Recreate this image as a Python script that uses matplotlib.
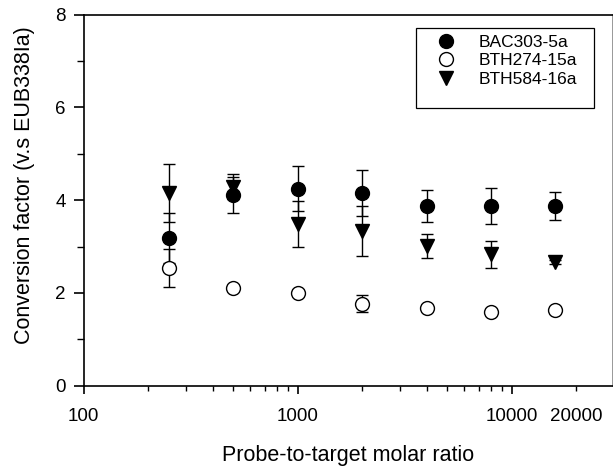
import matplotlib
matplotlib.use("Agg")
import matplotlib.pyplot as plt
from matplotlib.patches import Rectangle
from matplotlib.ticker import FixedLocator, FuncFormatter

plt.rcParams['font.family'] = ['Liberation Sans', 'DejaVu Sans']

# probe-to-target molar ratio
ratio = [250, 500, 1000, 2000, 4000, 8000, 16000]

# conversion factors and errors
bac303 = [3.19, 4.11, 4.25, 4.15, 3.88, 3.87, 3.87]
bac303_err = [0.54, 0.38, 0.49, 0.50, 0.34, 0.39, 0.30]

bth274 = [2.54, 2.11, 2.00, 1.77, 1.68, 1.60, 1.63]
bth274_err = [0.41, 0.05, 0.04, 0.18, 0.05, 0.04, 0.04]

bth584 = [4.15, 4.29, 3.48, 3.33, 3.01, 2.83, 2.67]
bth584_err = [0.63, 0.27, 0.50, 0.54, 0.26, 0.30, 0.05]

x_major = [100, 1000, 10000]
x_extra = 20000  # labelled minor tick
y_ticks = [0, 2, 4, 6, 8]

fig = plt.figure(figsize=(6.13, 4.69), dpi=100)
ax = fig.add_axes([0.1366, 0.1776, 0.863, 0.7911])

eb = dict(ecolor='black', elinewidth=1.0, capsize=4.5, capthick=1.0, linestyle='none')
tri = ax.errorbar(ratio, bth584, yerr=bth584_err, marker='v', markersize=10,
                  mfc='black', mec='black', zorder=3, **eb)
dot = ax.errorbar(ratio, bac303, yerr=bac303_err, marker='o', markersize=10,
                  mfc='black', mec='black', zorder=4, **eb)
ring = ax.errorbar(ratio, bth274, yerr=bth274_err, marker='o', markersize=10,
                   mfc='white', mec='black', mew=1.0, zorder=5, **eb)

ax.set_xscale('log')
ax.set_xlim(100, 29650)
ax.set_ylim(0, 8)

minor = [m * d for d in (100, 1000) for m in range(2, 10)] + [x_extra]
ax.xaxis.set_major_locator(FixedLocator(x_major))
ax.xaxis.set_major_formatter(FuncFormatter(lambda v, p: f"{v:.0f}"))
ax.xaxis.set_minor_locator(FixedLocator(minor))
ax.xaxis.set_minor_formatter(FuncFormatter(lambda v, p: f"{v:.0f}" if abs(v - x_extra) < 1 else ""))
ax.set_yticks(y_ticks)
ax.yaxis.set_minor_locator(FixedLocator([1, 3, 5, 7]))

ax.tick_params(axis='x', which='major', direction='out', length=6, width=1.2, labelsize=13.5, pad=10)
ax.tick_params(axis='x', which='minor', direction='out', length=3.6, width=1.0, labelsize=13.5, pad=12.4)
ax.tick_params(axis='y', which='major', direction='out', length=7, width=1.2, labelsize=13.5, pad=6)
ax.tick_params(axis='y', which='minor', direction='out', length=5, width=1.0)
for s in ax.spines.values():
    s.set_linewidth(1.2)
ax.spines['right'].set_color('#888888')

ax.set_xlabel("Probe-to-target molar ratio", fontsize=15.5)
ax.xaxis.set_label_coords(0.5, -0.16)
ax.set_ylabel("Conversion factor (v.s EUB338Ia)", fontsize=15.5)
ax.yaxis.set_label_coords(-0.092, 0.541)

# legend box drawn separately so its size matches the original
ax.add_patch(Rectangle((0.6276, 0.7485), 0.3371, 0.2148, transform=ax.transAxes,
                       fill=False, edgecolor='black', linewidth=0.9, zorder=6))
ax.legend([dot[0], ring[0], tri[0]], ["BAC303-5a", "BTH274-15a", "BTH584-16a"],
          loc='upper left', bbox_to_anchor=(0.6686, 0.946), borderaxespad=0,
          borderpad=0, fontsize=12.5, frameon=False, handlelength=1.0,
          handletextpad=1.4, labelspacing=0.2)

fig.savefig("out.png", dpi=100)
